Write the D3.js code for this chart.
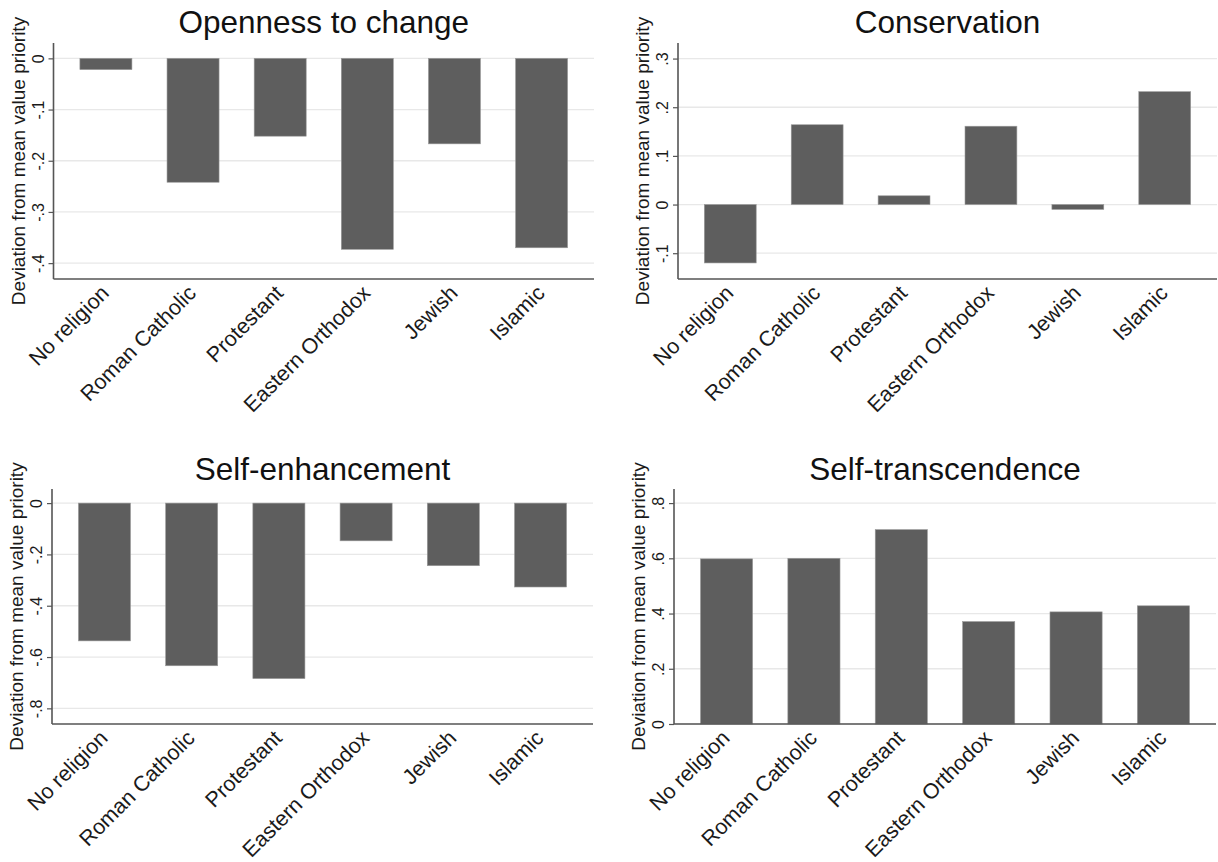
<!DOCTYPE html>
<html>
<head>
<meta charset="utf-8">
<script src="https://cdn.jsdelivr.net/npm/d3@7"></script>
<style>
  html, body { margin: 0; padding: 0; background: #ffffff; }
  svg { display: block; font-family: "Liberation Sans", Arial, Helvetica, sans-serif; }
</style>
</head>
<body>
<svg id="chart" width="1218" height="862"></svg>
<script>
// Religious denomination categories shared by all four panels
const categories = ["No religion", "Roman Catholic", "Protestant", "Eastern Orthodox", "Jewish", "Islamic"];

// Deviation from mean value priority, one array per higher-order value
const opennessValues      = [-0.022, -0.242, -0.152, -0.373, -0.167, -0.370];
const conservationValues  = [-0.120,  0.164,  0.018,  0.161, -0.010,  0.232];
const enhancementValues   = [-0.537, -0.634, -0.684, -0.147, -0.244, -0.327];
const transcendenceValues = [ 0.598,  0.600,  0.704,  0.371,  0.406,  0.428];

// Y-axis tick values per panel
const opennessTicks      = [0, -0.1, -0.2, -0.3, -0.4];
const conservationTicks  = [-0.1, 0, 0.1, 0.2, 0.3];
const enhancementTicks   = [0, -0.2, -0.4, -0.6, -0.8];
const transcendenceTicks = [0, 0.2, 0.4, 0.6, 0.8];

const panelTitles = ["Openness to change", "Conservation", "Self-enhancement", "Self-transcendence"];
const yAxisTitle = "Deviation from mean value priority";

// Plot-region geometry and y extent for each panel
const layout = [
  { left: 53.5, right: 594,  top: 43,  bottom: 279, domain: [-0.431, 0.030], titleY: 33 },
  { left: 678,  right: 1217, top: 43,  bottom: 279, domain: [-0.153, 0.332], titleY: 33 },
  { left: 52,   right: 593,  top: 489, bottom: 724, domain: [-0.861, 0.055], titleY: 480 },
  { left: 674,  right: 1216, top: 489, bottom: 724, domain: [0, 0.851],      titleY: 480 }
];

const panels = [
  { title: panelTitles[0], values: opennessValues,      ticks: opennessTicks },
  { title: panelTitles[1], values: conservationValues,  ticks: conservationTicks },
  { title: panelTitles[2], values: enhancementValues,   ticks: enhancementTicks },
  { title: panelTitles[3], values: transcendenceValues, ticks: transcendenceTicks }
];

// Stata-style number labels: ASCII minus, no leading zero ("-.1", ".2")
const plainLocale = d3.formatLocale({ decimal: ".", thousands: ",", grouping: [3], currency: ["", ""], minus: "-" });
const oneDecimal = plainLocale.format(".1f");
const fmt = d => Math.abs(d) < 1e-9 ? "0" : oneDecimal(d).replace(/^(-?)0\./, "$1.");

const svg = d3.select("#chart");

panels.forEach((p, i) => {
  const L = layout[i];
  const g = svg.append("g");

  const x = d3.scaleBand()
    .domain(categories)
    .range([L.left, L.right])
    .paddingInner(0.403)
    .paddingOuter(0.303);

  const y = d3.scaleLinear()
    .domain(L.domain)
    .range([L.bottom, L.top]);

  // horizontal grid lines
  g.append("g")
    .selectAll("line")
    .data(p.ticks)
    .join("line")
    .attr("x1", L.left)
    .attr("x2", L.right)
    .attr("y1", d => y(d))
    .attr("y2", d => y(d))
    .attr("stroke", "#e8e8e8")
    .attr("stroke-width", 1.3);

  // bars from zero
  g.append("g")
    .selectAll("rect")
    .data(p.values)
    .join("rect")
    .attr("x", (d, j) => x(categories[j]))
    .attr("width", x.bandwidth())
    .attr("y", d => y(Math.max(0, d)))
    .attr("height", d => Math.abs(y(d) - y(0)))
    .attr("fill", "#5e5e5e")
    .attr("stroke", "#9a9a9a")
    .attr("stroke-width", 0.6);

  // y axis with rotated tick labels
  const yAxis = d3.axisLeft(y)
    .tickValues(p.ticks)
    .tickSize(5)
    .tickPadding(0)
    .tickFormat(fmt);

  const ya = g.append("g")
    .attr("transform", `translate(${L.left},0)`)
    .call(yAxis);
  ya.select(".domain").remove();
  ya.selectAll(".tick line").attr("stroke", "#555").attr("stroke-width", 1.2);
  ya.selectAll(".tick text")
    .attr("x", null).attr("dy", null)
    .attr("transform", "translate(-10,0) rotate(-90)")
    .attr("text-anchor", "middle")
    .attr("font-size", 16)
    .attr("fill", "#1a1a1a");

  // axis lines
  g.append("line")
    .attr("x1", L.left).attr("x2", L.left)
    .attr("y1", L.top).attr("y2", L.bottom)
    .attr("stroke", "#555").attr("stroke-width", 1.6);

  const xAxis = d3.axisBottom(x).tickSize(0).tickPadding(0);
  const xa = g.append("g")
    .attr("transform", `translate(0,${L.bottom})`)
    .call(xAxis);
  xa.select(".domain")
    .attr("d", `M${L.left},0H${L.right}`)
    .attr("stroke", "#555").attr("stroke-width", 1.6);
  xa.selectAll(".tick text")
    .attr("y", null).attr("dy", null)
    .attr("transform", "translate(-7,4) rotate(-45)")
    .attr("text-anchor", "end")
    .attr("dy", "0.75em")
    .attr("font-size", 21.5)
    .attr("fill", "#1a1a1a");

  // panel title
  g.append("text")
    .attr("x", (L.left + L.right) / 2)
    .attr("y", L.titleY)
    .attr("text-anchor", "middle")
    .attr("font-size", 31.5)
    .attr("fill", "#111")
    .text(p.title);

  // y axis title
  g.append("text")
    .attr("transform", `translate(${L.left - 29},${(L.top + L.bottom) / 2}) rotate(-90)`)
    .attr("text-anchor", "middle")
    .attr("font-size", 19)
    .attr("fill", "#1a1a1a")
    .text(yAxisTitle);
});
</script>
</body>
</html>
